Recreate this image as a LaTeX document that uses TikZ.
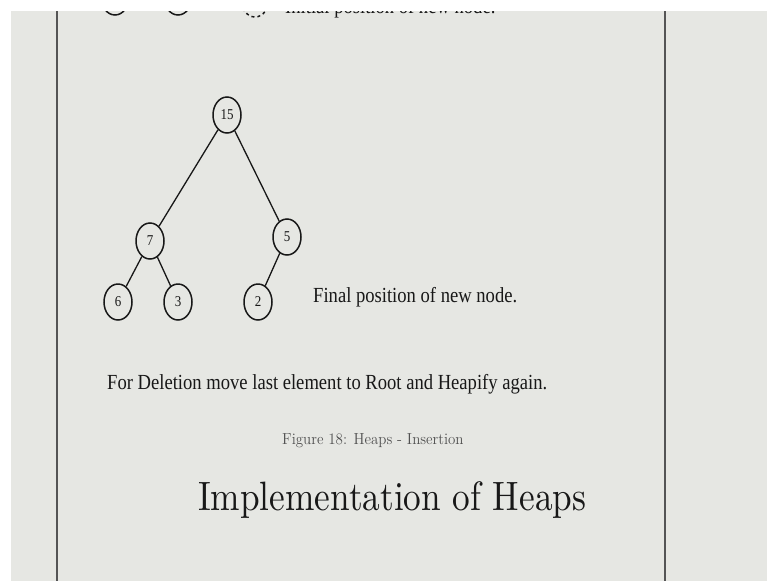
\documentclass[tikz,border=0pt]{standalone}
\usepackage{fontspec}
\setmainfont{Liberation Serif}[FakeStretch=0.865]
\newfontfamily\lmbig{lmroman10-regular.otf}[FakeStretch=0.86]
\newfontfamily\lmcap{lmroman12-regular.otf}[FakeStretch=0.935]
\usetikzlibrary{shapes.geometric}
\definecolor{pagebg}{RGB}{230,231,227}
\definecolor{ink}{RGB}{24,24,24}
\definecolor{capgrey}{RGB}{80,80,80}
\definecolor{rulegrey}{RGB}{85,85,85}
\tikzset{
  heapnode/.style={draw=ink, ellipse, minimum width=28pt, minimum height=36pt, inner sep=0pt, line width=1.5pt, text=ink, font=\fontsize{15}{15}\selectfont},
  heapedge/.style={draw=ink, line width=1.3pt},
  bodytext/.style={inner sep=0pt, anchor=base west, text=ink, font=\fontsize{21.5}{24}\selectfont},
  captext/.style={inner sep=0pt, anchor=base west, text=capgrey, font=\lmcap\fontsize{16}{18}\selectfont},
  titletext/.style={inner sep=0pt, anchor=base west, text=ink, font=\lmbig\fontsize{41}{46}\selectfont},
  pagerule/.style={draw=rulegrey, line width=2pt}
}
\begin{document}
\begin{tikzpicture}[x=1pt,y=-1pt]
\useasboundingbox (0,0) rectangle (767,581);
\fill[pagebg] (0,0) rectangle (767,581);
% page rules
\coordinate (rl1) at (57,11);
\coordinate (rl2) at (57,581);
\coordinate (rr1) at (665,11);
\coordinate (rr2) at (665,581);
\draw[pagerule] (rl1) -- (rl2);
\draw[pagerule] (rr1) -- (rr2);
% cut-off row at top
\node[heapnode] (ta) at (115,-3) {};
\node[heapnode] (tb) at (178,-3) {};
\node[heapnode, dashed] (tc) at (255,-1) {};
\node[bodytext] (ttext) at (285,13) {Initial position of new node.};
% tree
\node[heapnode] (n15) at (227,115) {15};
\node[heapnode] (n7) at (150,241) {7};
\node[heapnode] (n5) at (287,237) {5};
\node[heapnode] (n6) at (118,302) {6};
\node[heapnode] (n3) at (178,302) {3};
\node[heapnode] (n2) at (258,302) {2};
\draw[heapedge] (n15) -- (n7);
\draw[heapedge] (n15) -- (n5);
\draw[heapedge] (n7) -- (n6);
\draw[heapedge] (n7) -- (n3);
\draw[heapedge] (n5) -- (n2);
% texts
\node[bodytext] (final) at (313,302) {Final position of new node.};
\node[bodytext] (deletion) at (107,389) {For Deletion move last element to Root and Heapify again.};
\node[captext] (caption) at (282,444) {Figure 18: Heaps - Insertion};
\node[titletext] (title) at (198,510) {Implementation of Heaps};
% white frame strips (top and left) drawn last
\fill[white] (0,0) rectangle (767,11);
\fill[white] (0,0) rectangle (11,581);
\end{tikzpicture}
\end{document}
